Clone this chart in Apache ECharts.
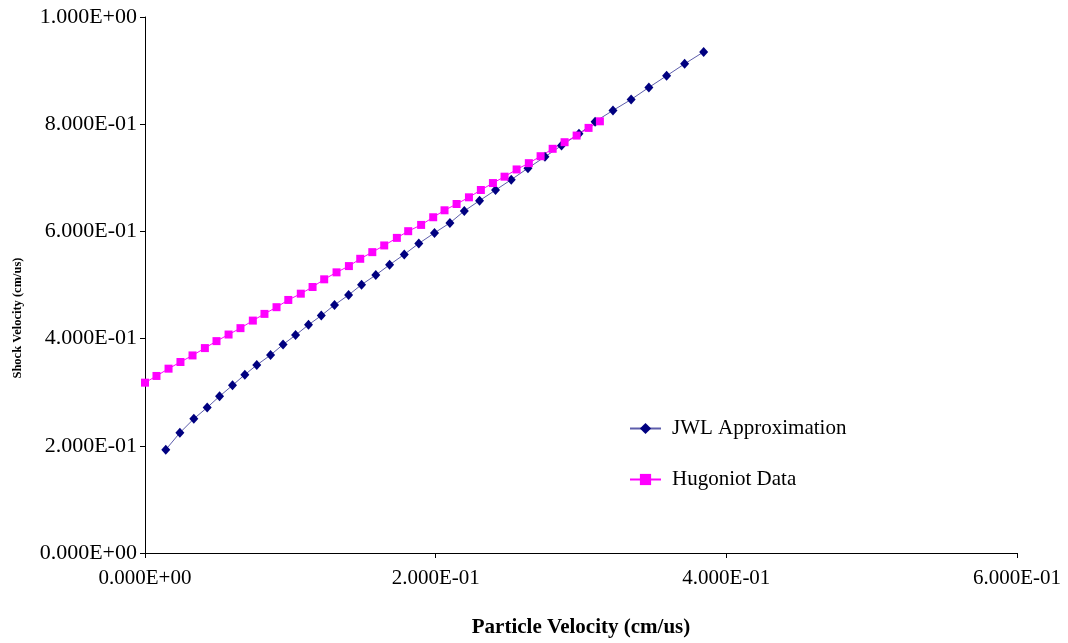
<!DOCTYPE html>
<html>
<head>
<meta charset="utf-8">
<script src="https://cdn.jsdelivr.net/npm/echarts@6/dist/echarts.min.js"></script>
<style>
  html, body { margin: 0; padding: 0; background: #ffffff; }
  #chart { width: 1068px; height: 643px; }
</style>
</head>
<body>
<div id="chart"></div>
<script>
// JWL approximation: particle velocity (cm/us) and shock velocity (cm/us)
const jwlUp = [0.0143, 0.0240, 0.0336, 0.0428, 0.0513, 0.0602, 0.0687, 0.0769, 0.0864, 0.0950,
  0.1036, 0.1125, 0.1213, 0.1304, 0.1401, 0.1490, 0.1588, 0.1683, 0.1784, 0.1884,
  0.1992, 0.2098, 0.2197, 0.2302, 0.2412, 0.2520, 0.2635, 0.2752, 0.2866, 0.2986,
  0.3097, 0.3220, 0.3345, 0.3467, 0.3589, 0.3713, 0.3844];
const jwlUs = [0.1928, 0.2243, 0.2504, 0.2714, 0.2924, 0.3128, 0.3327, 0.3507, 0.3693, 0.3890,
  0.4065, 0.4257, 0.4429, 0.4628, 0.4814, 0.5006, 0.5186, 0.5377, 0.5571, 0.5775,
  0.5972, 0.6158, 0.6381, 0.6574, 0.6771, 0.6965, 0.7180, 0.7392, 0.7602, 0.7820,
  0.8048, 0.8257, 0.8461, 0.8686, 0.8903, 0.9126, 0.9349];

// Hugoniot data: particle velocity (cm/us) and shock velocity (cm/us)
const hugUp = [0.0000, 0.0079, 0.0162, 0.0244, 0.0327, 0.0412, 0.0492, 0.0575, 0.0657, 0.0742,
  0.0822, 0.0905, 0.0986, 0.1072, 0.1153, 0.1233, 0.1318, 0.1403, 0.1481, 0.1564,
  0.1646, 0.1733, 0.1811, 0.1900, 0.1983, 0.2061, 0.2144, 0.2229, 0.2311, 0.2394,
  0.2474, 0.2557, 0.2641, 0.2722, 0.2805, 0.2887, 0.2970, 0.3052, 0.3130];
const hugUs = [0.3178, 0.3303, 0.3439, 0.3563, 0.3686, 0.3823, 0.3953, 0.4076, 0.4195, 0.4336,
  0.4461, 0.4586, 0.4721, 0.4838, 0.4963, 0.5106, 0.5236, 0.5353, 0.5489, 0.5613,
  0.5738, 0.5879, 0.6004, 0.6121, 0.6264, 0.6394, 0.6511, 0.6636, 0.6772, 0.6902,
  0.7021, 0.7156, 0.7273, 0.7403, 0.7541, 0.7664, 0.7788, 0.7931, 0.8054];

const seriesNames = ['JWL Approximation', 'Hugoniot Data'];
const xTitle = 'Particle Velocity (cm/us)';
const yTitle = 'Shock Velocity (cm/us)';

// Scientific notation with a 3-digit mantissa and a two-digit exponent, e.g. 2.000E-01
function sci(v) {
  if (v === 0) return '0.000E+00';
  const e = Math.floor(Math.log10(Math.abs(v)) + 1e-9);
  const m = v / Math.pow(10, e);
  const sign = e < 0 ? '-' : '+';
  const ex = String(Math.abs(e)).padStart(2, '0');
  return m.toFixed(3) + 'E' + sign + ex;
}

const zip = (a, b) => a.map((x, i) => [x, b[i]]);
const serif = '"Liberation Serif", "DejaVu Serif", serif';
const axisCol = '#000000';

const chart = echarts.init(document.getElementById('chart'), null, { renderer: 'canvas' });
chart.setOption({
  animation: false,
  backgroundColor: '#ffffff',
  grid: { left: 145, right: 51, top: 17, bottom: 88, containLabel: false },
  xAxis: {
    type: 'value', min: 0, max: 0.6, interval: 0.2,
    name: xTitle, nameLocation: 'middle', nameGap: 64,
    nameTextStyle: { fontFamily: serif, fontWeight: 'bold', fontSize: 21, color: '#000' },
    axisLine: { show: true, onZero: false, lineStyle: { color: axisCol, width: 1 } },
    axisTick: { show: true, inside: false, length: 5, lineStyle: { color: axisCol } },
    axisLabel: { formatter: sci, fontFamily: serif, fontSize: 21, color: '#000', margin: 15 },
    splitLine: { show: false }
  },
  yAxis: {
    type: 'value', min: 0, max: 1, interval: 0.2,
    axisLine: { show: true, lineStyle: { color: axisCol, width: 1 } },
    axisTick: { show: true, inside: false, length: 5, lineStyle: { color: axisCol } },
    axisLabel: { formatter: sci, fontFamily: serif, fontSize: 22, color: '#000', margin: 8 },
    splitLine: { show: false }
  },
  // vertical y-axis title
  graphic: [{
    type: 'text', x: 18, y: 318, rotation: Math.PI / 2,
    style: {
      text: yTitle, fontFamily: serif, fontWeight: 'bold', fontSize: 12.5,
      fill: '#000', align: 'center', verticalAlign: 'middle'
    }
  }],
  legend: {
    left: 629, top: 418, orient: 'vertical', padding: 0,
    itemWidth: 31, itemHeight: 14, itemGap: 30,
    textStyle: { fontFamily: serif, fontSize: 21, color: '#000', padding: [0, 0, 0, 6] },
    data: seriesNames
  },
  series: [
    {
      name: seriesNames[0], type: 'line', data: zip(jwlUp, jwlUs),
      symbol: 'diamond', symbolSize: [9, 10], showAllSymbol: true,
      lineStyle: { color: '#5d5dab', width: 1 },
      itemStyle: { color: '#000080' }
    },
    {
      name: seriesNames[1], type: 'line', data: zip(hugUp, hugUs),
      symbol: 'rect', symbolSize: 8, showAllSymbol: true,
      lineStyle: { color: '#ff00ff', width: 1 },
      itemStyle: { color: '#ff00ff' }
    }
  ]
});
</script>
</body>
</html>
